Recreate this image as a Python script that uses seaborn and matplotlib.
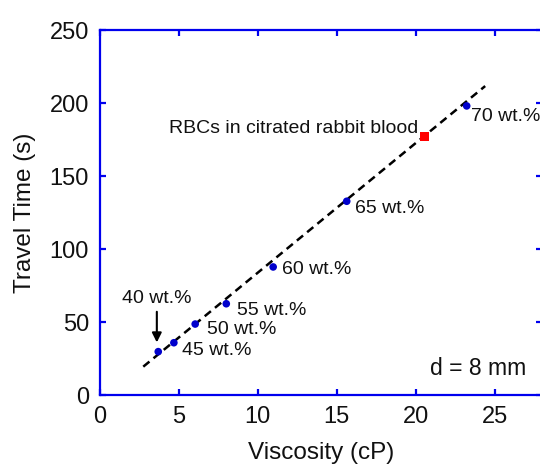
# Travel time vs viscosity, d = 8 mm
import pandas as pd
import seaborn as sns
import matplotlib
matplotlib.use("Agg")
import matplotlib.pyplot as plt

# data
conc_labels = ['40 wt.%', '45 wt.%', '50 wt.%', '55 wt.%', '60 wt.%', '65 wt.%', '70 wt.%']
viscosity = [3.69, 4.68, 6.03, 8.0, 10.97, 15.63, 23.23]
travel_time = [29.7, 35.8, 48.6, 62.5, 87.7, 132.7, 198.0]
rbc_viscosity = [20.55]
rbc_time = [176.9]

# dashed linear fit, end points as drawn
fit_x = [2.74, 24.4]
fit_y = [19.4, 211.6]

# where each label sits (data coords)
label_x = [1.39, 5.17, 6.79, 8.65, 11.56, 16.14, 23.53]
label_y = [66.4, 30.8, 45.0, 58.2, 86.1, 127.6, 190.6]

df = pd.DataFrame({'Viscosity': viscosity, 'Time': travel_time, 'Label': conc_labels})
rbc = pd.DataFrame({'Viscosity': rbc_viscosity, 'Time': rbc_time})
fit = pd.DataFrame({'Viscosity': fit_x, 'Time': fit_y})

sns.set_theme(style="ticks")
plt.rcParams['font.family'] = ['Liberation Sans', 'DejaVu Sans']
txt = '#111111'

fig = plt.figure(figsize=(5.4, 4.65), dpi=100)
ax = fig.add_axes([100 / 540, 70 / 465, 442 / 540, 365 / 465])

sns.lineplot(data=fit, x='Viscosity', y='Time', ax=ax, color='black',
             linestyle=(0, (3.2, 2.1)), linewidth=1.8)
sns.scatterplot(data=df, x='Viscosity', y='Time', ax=ax, color='#0000cc',
                s=30, edgecolor='none', zorder=3)
sns.scatterplot(data=rbc, x='Viscosity', y='Time', ax=ax, color='#ff0000',
                marker='s', s=42, edgecolor='none', zorder=3)

for lab, lx, ly in zip(conc_labels, label_x, label_y):
    ax.text(lx, ly, lab, fontsize=14, color=txt, ha='left', va='center')

ax.annotate('', xy=(3.6, 36.0), xytext=(3.6, 57.0),
            arrowprops=dict(arrowstyle='-|>', color='black', lw=1.5,
                            mutation_scale=14, shrinkA=0, shrinkB=0))
ax.text(20.15, 182.7, 'RBCs in citrated rabbit blood', fontsize=14,
        color=txt, ha='right', va='center')
ax.text(20.89, 18.3, 'd = 8 mm', fontsize=16.5, color=txt, ha='left', va='center')

ax.set_xlim(0, 28)
ax.set_ylim(0, 250)
ax.set_xticks([0, 5, 10, 15, 20, 25])
ax.set_yticks([0, 50, 100, 150, 200, 250])
ax.set_xlabel('Viscosity (cP)', fontsize=17.5, color=txt, labelpad=10)
ax.set_ylabel('Travel Time (s)', fontsize=17.5, color=txt, labelpad=10)

for sp in ax.spines.values():
    sp.set_color('#0000ee')
    sp.set_linewidth(1.6)
ax.tick_params(direction='in', length=4.5, width=1.6, color='#0000ee',
               labelsize=17, labelcolor=txt, top=True, right=True, pad=8)

fig.savefig('out.png', dpi=100)
